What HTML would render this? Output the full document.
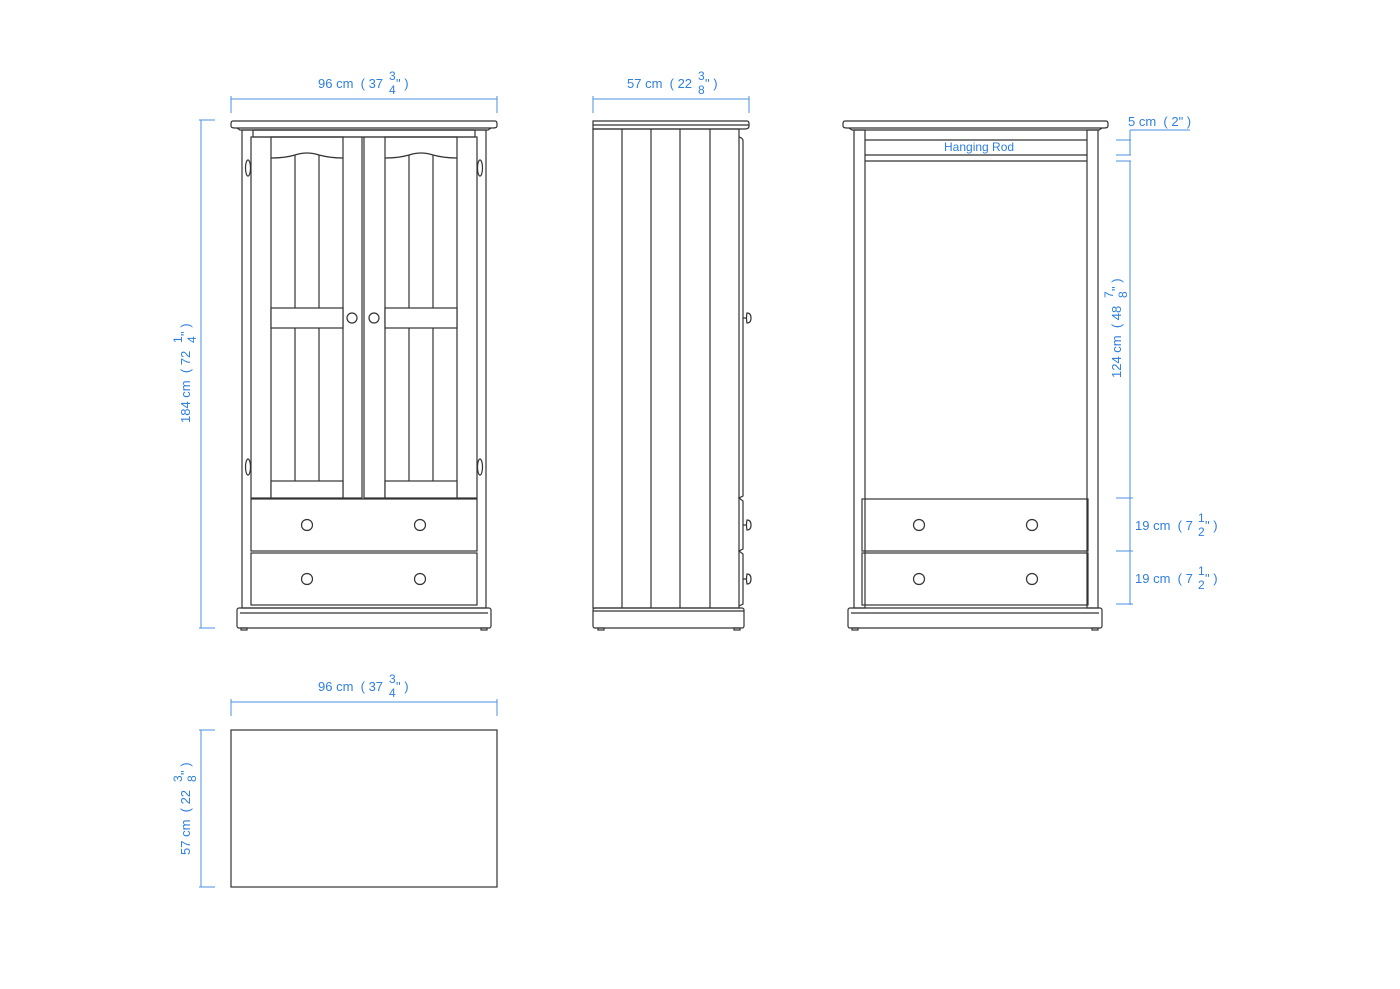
<!DOCTYPE html>
<html><head><meta charset="utf-8"><style>
html,body{margin:0;padding:0;background:#fff}
svg{display:block}
.l{fill:none;stroke:#333;stroke-width:1.2}
.b{stroke:#4a90e2;stroke-width:1;fill:none}
.t{fill:#2f7fdd;font-family:"Liberation Sans",sans-serif;font-size:13px;white-space:pre}
.f{fill:#2f7fdd;font-family:"Liberation Sans",sans-serif;font-size:12px}
</style></head><body>
<svg width="1400" height="989" viewBox="0 0 1400 989" xmlns="http://www.w3.org/2000/svg" xml:space="preserve">
<rect width="1400" height="989" fill="#fff"/>

<g class="l">
<path d="M233 121 H495 Q497 121 497 124 V126 Q497 128 493 128 H235 Q231 128 231 126 V124 Q231 121 233 121Z"/>
<path d="M237 128 L240 130 H488 L491 128"/>
<rect x="242" y="130" width="244" height="478"/>
<rect x="253" y="130" width="222" height="7"/>
<rect x="251" y="137" width="111" height="361"/>
<rect x="364" y="137" width="113" height="361"/>
<rect x="271" y="137" width="72" height="361"/>
<rect x="385" y="137" width="72" height="361"/>
<path d="M271 158 Q285 158 295 155 Q307 151 319 155 Q330 158 343 158"/>
<path d="M385 158 Q399 158 409 155 Q421 151 433 155 Q444 158 457 158"/>
<line x1="295" y1="155" x2="295" y2="481"/><line x1="319" y1="155" x2="319" y2="481"/>
<line x1="409" y1="155" x2="409" y2="481"/><line x1="433" y1="155" x2="433" y2="481"/>
<rect x="271" y="308" width="72" height="20" fill="#fff"/>
<rect x="385" y="308" width="72" height="20" fill="#fff"/>
<rect x="271" y="481" width="72" height="17" fill="#fff"/>
<rect x="385" y="481" width="72" height="17" fill="#fff"/>
<circle cx="352" cy="318" r="5"/><circle cx="374" cy="318" r="5"/>
<ellipse cx="248" cy="168" rx="2.5" ry="8"/><ellipse cx="248" cy="467" rx="2.5" ry="8"/>
<ellipse cx="480" cy="168" rx="2.5" ry="8"/><ellipse cx="480" cy="467" rx="2.5" ry="8"/>
<rect x="251" y="499" width="226" height="52"/>
<rect x="251" y="553" width="226" height="52"/>
<circle cx="307" cy="525" r="5.5"/><circle cx="420" cy="525" r="5.5"/>
<circle cx="307" cy="579" r="5.5"/><circle cx="420" cy="579" r="5.5"/>
<rect x="237" y="608" width="254" height="20" rx="2"/>
<line x1="240" y1="613" x2="488" y2="613"/>
<rect x="241" y="628" width="6" height="2"/><rect x="481" y="628" width="6" height="2"/>
</g>
<g class="b">
<line x1="231" y1="99" x2="497" y2="99"/><line x1="231" y1="96" x2="231" y2="113"/><line x1="497" y1="96" x2="497" y2="113"/>
<line x1="201" y1="120" x2="201" y2="628"/><line x1="199" y1="120" x2="215" y2="120"/><line x1="199" y1="628" x2="215" y2="628"/>
</g>
<text class="t" x="318" y="88">96 cm  ( 37</text><text class="f" x="389" y="80">3</text><text class="f" x="389" y="94">4</text><text class="t" x="396" y="88">" )</text>
<g transform="translate(190,423) rotate(-90)">
<text class="t" x="0" y="0">184 cm  ( 72</text><text class="f" x="80" y="-8">1</text><text class="f" x="80" y="6">4</text><text class="t" x="87" y="0">" )</text>
</g>

<g class="l">
<path d="M593 121 H747 Q749 121 749 124 V126 Q749 129 745 129 H593Z"/>
<line x1="593" y1="125" x2="749" y2="125"/>
<rect x="593" y="129" width="146" height="479"/>
<line x1="622" y1="129" x2="622" y2="608"/><line x1="651" y1="129" x2="651" y2="608"/>
<line x1="680" y1="129" x2="680" y2="608"/><line x1="710" y1="129" x2="710" y2="608"/>
<path d="M739 137 Q743 138 743 141 V496 L739 498 L743 501 V549 L739 551 L743 554 V604 L739 606"/>
<path d="M743 318 H746 M747 313 q4 0 4 5 q0 5 -4 5 q-1 -5 0 -10Z"/>
<path d="M743 525 H746 M747 520 q4 0 4 5 q0 5 -4 5 q-1 -5 0 -10Z"/>
<path d="M743 579 H746 M747 574 q4 0 4 5 q0 5 -4 5 q-1 -5 0 -10Z"/>
<rect x="593" y="608" width="151" height="20" rx="2"/>
<line x1="593" y1="611" x2="744" y2="611"/>
<rect x="598" y="628" width="6" height="2"/><rect x="734" y="628" width="6" height="2"/>
</g>
<g class="b">
<line x1="593" y1="99" x2="749" y2="99"/><line x1="593" y1="96" x2="593" y2="113"/><line x1="749" y1="96" x2="749" y2="113"/>
</g>
<text class="t" x="627" y="88">57 cm  ( 22</text><text class="f" x="698" y="80">3</text><text class="f" x="698" y="94">8</text><text class="t" x="705" y="88">" )</text>

<g class="l">
<path d="M845 121 H1106 Q1108 121 1108 124 V126 Q1108 128 1104 128 H847 Q843 128 843 126 V124 Q843 121 845 121Z"/>
<path d="M849 128 L852 130 H1099 L1102 128"/>
<rect x="854" y="130" width="11" height="478"/>
<rect x="1087" y="130" width="11" height="478"/>
<line x1="865" y1="140" x2="1087" y2="140"/>
<line x1="865" y1="155" x2="1087" y2="155"/>
<line x1="865" y1="161" x2="1087" y2="161"/>
<rect x="862" y="499" width="226" height="52"/>
<rect x="862" y="553" width="226" height="52"/>
<circle cx="919" cy="525" r="5.5"/><circle cx="1032" cy="525" r="5.5"/>
<circle cx="919" cy="579" r="5.5"/><circle cx="1032" cy="579" r="5.5"/>
<rect x="848" y="608" width="254" height="20" rx="2"/>
<line x1="851" y1="613" x2="1099" y2="613"/>
<rect x="852" y="628" width="6" height="2"/><rect x="1092" y="628" width="6" height="2"/>
</g>
<text class="t" x="944" y="151" style="font-size:12px">Hanging Rod</text>
<g class="b">
<line x1="1130" y1="130" x2="1190" y2="130"/>
<line x1="1130" y1="130" x2="1130" y2="155"/>
<line x1="1116" y1="140" x2="1131" y2="140"/><line x1="1116" y1="155" x2="1131" y2="155"/>
<line x1="1116" y1="161" x2="1131" y2="161"/>
<line x1="1130" y1="161" x2="1130" y2="605"/>
<line x1="1116" y1="498" x2="1133" y2="498"/>
<line x1="1116" y1="551" x2="1133" y2="551"/>
<line x1="1116" y1="604" x2="1133" y2="604"/>
</g>
<text class="t" x="1128" y="126">5 cm  ( 2" )</text>
<g transform="translate(1121,378) rotate(-90)">
<text class="t" x="0" y="0">124 cm  ( 48</text><text class="f" x="80" y="-8">7</text><text class="f" x="80" y="6">8</text><text class="t" x="87" y="0">" )</text>
</g>
<text class="t" x="1135" y="530">19 cm  ( 7</text><text class="f" x="1198" y="522">1</text><text class="f" x="1198" y="536">2</text><text class="t" x="1205" y="530">" )</text>
<text class="t" x="1135" y="583">19 cm  ( 7</text><text class="f" x="1198" y="575">1</text><text class="f" x="1198" y="589">2</text><text class="t" x="1205" y="583">" )</text>

<rect class="l" x="231" y="730" width="266" height="157"/>
<g class="b">
<line x1="231" y1="702" x2="497" y2="702"/><line x1="231" y1="699" x2="231" y2="716"/><line x1="497" y1="699" x2="497" y2="716"/>
<line x1="201" y1="730" x2="201" y2="887"/><line x1="199" y1="730" x2="215" y2="730"/><line x1="199" y1="887" x2="215" y2="887"/>
</g>
<text class="t" x="318" y="691">96 cm  ( 37</text><text class="f" x="389" y="683">3</text><text class="f" x="389" y="697">4</text><text class="t" x="396" y="691">" )</text>
<g transform="translate(190,855) rotate(-90)">
<text class="t" x="0" y="0">57 cm  ( 22</text><text class="f" x="73" y="-8">3</text><text class="f" x="73" y="6">8</text><text class="t" x="80" y="0">" )</text>
</g>
</svg>
</body></html>
